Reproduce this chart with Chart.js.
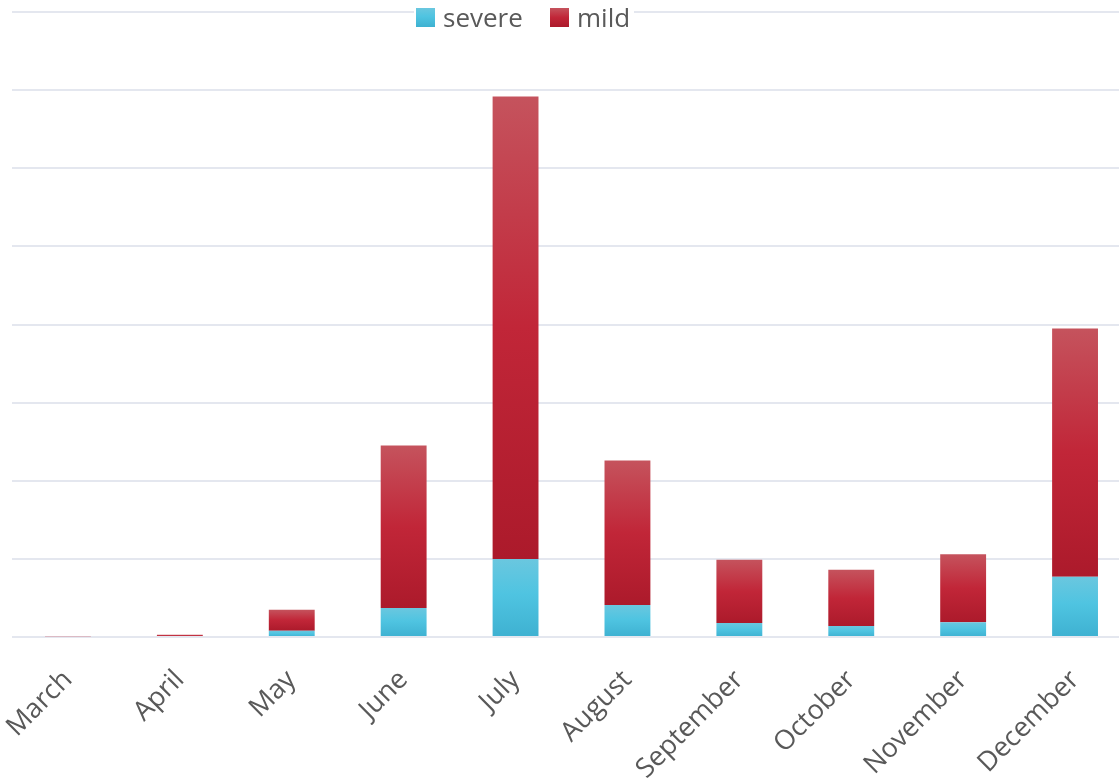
<!DOCTYPE html>
<html>
<head>
<meta charset="utf-8">
<title>severe / mild by month</title>
<script src="https://cdn.jsdelivr.net/npm/chart.js@4/dist/chart.umd.min.js"></script>
<style>
  html, body { margin: 0; padding: 0; background: #fff; overflow: hidden; }
  #wrap { width: 1131px; height: 780px; position: relative; }
</style>
</head>
<body>
<div id="wrap"><canvas id="chart"></canvas></div>
<script>
// monthly counts, stacked: severe at the bottom, mild on top
const months = ['March', 'April', 'May', 'June', 'July', 'August', 'September', 'October', 'November', 'December'];
const severe = [0, 0, 8, 37, 100, 41, 18, 14, 19, 77];
const mild = [1, 3, 27, 208, 592, 185, 81, 72, 87, 318];
const yTicks = [0, 100, 200, 300, 400, 500, 600, 700, 800];

const textColor = '#595959';
const fontFamily = '"Open Sans", "Noto Sans", sans-serif';

// vertical gradient spanning one stacked segment
function segmentGradient(ctx, stops) {
    const chart = ctx.chart;
    const y = chart.scales.y;
    if (!y || ctx.type !== 'data') return stops[1][1];
    let base = 0;
    for (let i = 0; i < ctx.datasetIndex; i++) {
        base += chart.data.datasets[i].data[ctx.dataIndex];
    }
    const top = base + chart.data.datasets[ctx.datasetIndex].data[ctx.dataIndex];
    const y0 = y.getPixelForValue(top);
    const y1 = y.getPixelForValue(base);
    if (!(y1 - y0 > 0.5)) return stops[0][1];
    const g = chart.ctx.createLinearGradient(0, y0, 0, y1);
    stops.forEach(s => g.addColorStop(s[0], s[1]));
    return g;
}

const severeStops = [[0, '#6ac7df'], [0.45, '#4fc4e1'], [1, '#3eb1d1']];
const mildStops = [[0, '#c5535d'], [0.5, '#c12638'], [1, '#ac1a2b']];

// legend drawn on top of the plot, over the top grid line
const topLegend = {
    id: 'topLegend',
    afterDraw(chart) {
        const c = chart.ctx;
        c.save();
        c.fillStyle = '#fff';
        c.fillRect(414, 0, 220, 32);
        const items = [
            { label: 'severe', x: 416, stops: severeStops },
            { label: 'mild', x: 550, stops: mildStops }
        ];
        c.font = '26px ' + fontFamily;
        c.textBaseline = 'alphabetic';
        items.forEach(it => {
            const g = c.createLinearGradient(0, 8, 0, 27);
            it.stops.forEach(s => g.addColorStop(s[0], s[1]));
            c.fillStyle = g;
            c.fillRect(it.x, 8, 19, 19);
            c.fillStyle = textColor;
            c.fillText(it.label, it.x + 27, 27);
        });
        c.restore();
    }
};

new Chart(document.getElementById('chart'), {
    type: 'bar',
    data: {
        labels: months,
        datasets: [
            {
                label: 'severe',
                data: severe,
                backgroundColor: ctx => segmentGradient(ctx, severeStops),
                borderWidth: 0,
                barPercentage: 0.41,
                categoryPercentage: 1
            },
            {
                label: 'mild',
                data: mild,
                backgroundColor: ctx => segmentGradient(ctx, mildStops),
                borderWidth: 0,
                barPercentage: 0.41,
                categoryPercentage: 1
            }
        ]
    },
    options: {
        responsive: true,
        maintainAspectRatio: false,
        animation: false,
        layout: { padding: { left: 12, top: 12, right: 0, bottom: 0 } },
        plugins: {
            legend: { display: false },
            tooltip: { enabled: false }
        },
        scales: {
            x: {
                stacked: true,
                grid: { display: false },
                border: { display: false },
                ticks: {
                    color: textColor,
                    font: { family: fontFamily, size: 27 },
                    minRotation: 45,
                    maxRotation: 45,
                    autoSkip: false,
                    padding: 19
                },
                afterFit(scale) {
                    // fixed label band under the plot; long names may run to the edge
                    scale.height = 143;
                    scale.paddingLeft = 0;
                    scale.paddingRight = 0;
                }
            },
            y: {
                stacked: true,
                min: 0,
                max: 800,
                afterBuildTicks(scale) {
                    scale.ticks = yTicks.map(v => ({ value: v }));
                },
                grid: { color: '#e4e7ef', lineWidth: 2, drawTicks: false },
                border: { display: false },
                ticks: { display: false }
            }
        }
    },
    plugins: [topLegend]
});
</script>
</body>
</html>
